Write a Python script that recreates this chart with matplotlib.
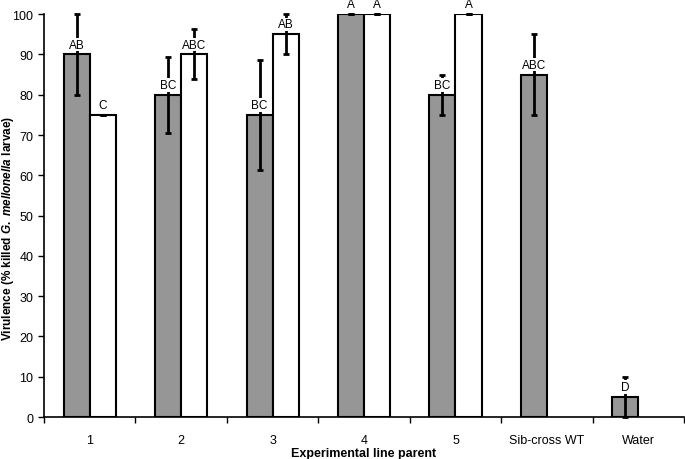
import matplotlib
matplotlib.use("Agg")
import matplotlib.pyplot as plt
import numpy as np

# Data
groups = ["1", "2", "3", "4", "5", "Sib-cross WT", "Water"]
gray_vals = [90, 80, 75, 100, 80, 85, 5]
gray_err = [10, 9.4, 13.7, 0, 5, 10, 5]
gray_labels = ["AB", "BC", "BC", "A", "BC", "ABC", "D"]
white_vals = [75, 90, 95, 100, 100]
white_err = [0, 6.2, 5, 0, 0]
white_labels = ["C", "ABC", "AB", "A", "A"]

plt.rcParams['font.family'] = ['Liberation Sans', 'DejaVu Sans']
plt.rcParams['mathtext.fontset'] = 'custom'
plt.rcParams['mathtext.it'] = 'Liberation Sans:italic:bold'
plt.rcParams['mathtext.rm'] = 'Liberation Sans:bold'

fig = plt.figure(figsize=(6.85, 4.6), dpi=100)
ax = fig.add_axes([0.0642, 0.0913, 0.9345, 0.8757])

w = 0.285
x = np.arange(1, len(groups) + 1)
xg = x - w / 2
xw = x[:len(white_vals)] + w / 2

ax.bar(xg, gray_vals, width=w, color="#969696", edgecolor="black", linewidth=1.5, zorder=2)
ax.bar(xw, white_vals, width=w, color="white", edgecolor="black", linewidth=1.5, zorder=2)

ax.errorbar(xg, gray_vals, yerr=gray_err, fmt="none", ecolor="black",
            elinewidth=2, capsize=2.5, capthick=2, zorder=3, clip_on=False)
ax.errorbar(xw, white_vals, yerr=white_err, fmt="none", ecolor="black",
            elinewidth=2, capsize=2.5, capthick=2, zorder=3, clip_on=False)

box = dict(facecolor="white", edgecolor="none", pad=0.6)
for xi, v, lab in zip(xg, gray_vals, gray_labels):
    ax.annotate(lab, (xi, v), xytext=(0, 5), textcoords="offset points",
                ha="center", va="baseline", fontsize=8.5, bbox=box,
                zorder=4, annotation_clip=False)
for xi, v, lab in zip(xw, white_vals, white_labels):
    ax.annotate(lab, (xi, v), xytext=(0, 5), textcoords="offset points",
                ha="center", va="baseline", fontsize=8.5, bbox=box,
                zorder=4, annotation_clip=False)

ax.set_xlim(0.5, len(groups) + 0.5)
ax.set_ylim(0, 100)
ax.set_yticks(range(0, 101, 10))
ax.set_xticks(np.arange(0.5, len(groups) + 1, 1))
ax.set_xticklabels([])
ax.set_xticks(x, minor=True)
ax.set_xticklabels(groups, minor=True)
ax.tick_params(axis="x", which="minor", length=0, pad=12, labelsize=9)
ax.tick_params(axis="x", which="major", length=4, width=1)
ax.tick_params(axis="y", length=4, width=1, labelsize=9)

for s in ["top", "right"]:
    ax.spines[s].set_visible(False)
ax.spines["left"].set_linewidth(1.2)
ax.spines["bottom"].set_linewidth(1.2)

ax.set_xlabel("Experimental line parent", fontsize=9, fontweight="bold")
ax.xaxis.set_label_coords(0.5, -0.074)
ax.set_ylabel(r"Virulence (% killed $\mathit{G.\ mellonella}$ larvae)",
              fontsize=8.5, fontweight="bold")
ax.yaxis.set_label_coords(-0.044, 0.47)

fig.savefig("out.png", dpi=100)
